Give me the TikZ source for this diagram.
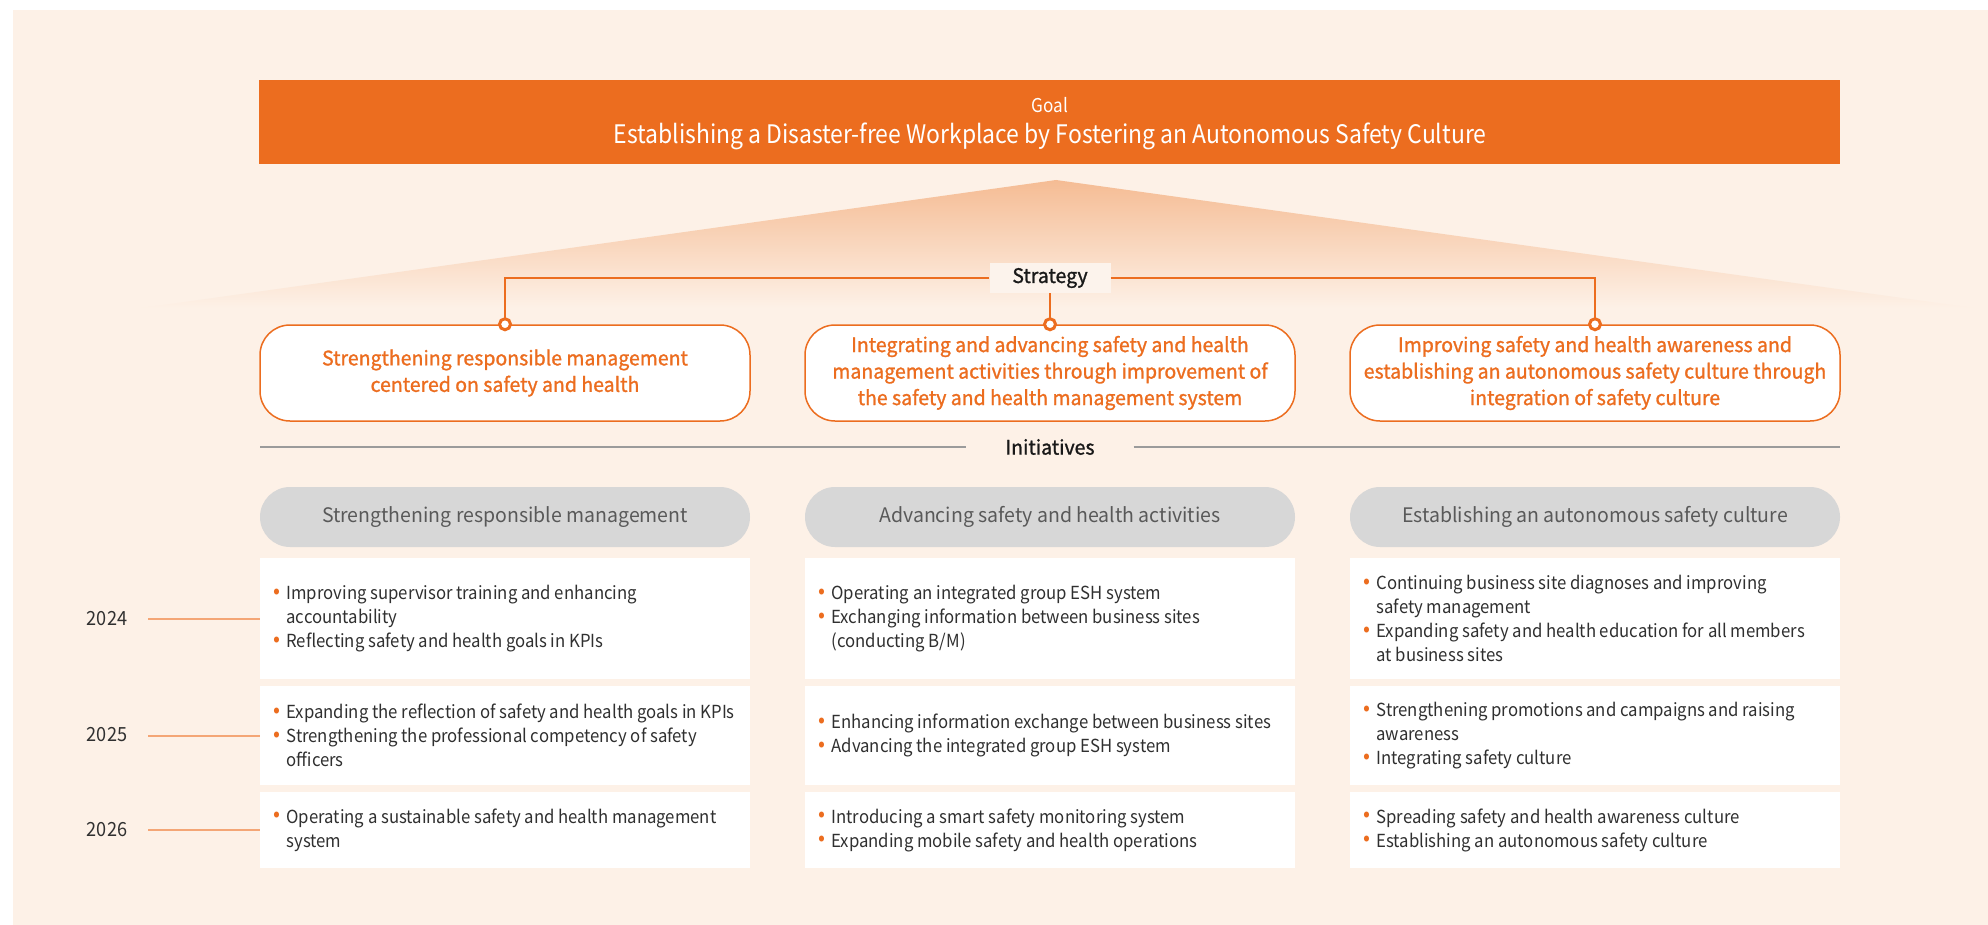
\documentclass[tikz,border=0pt]{standalone}
\usepackage{fontspec}
\setmainfont{Noto Sans CJK KR}
\newfontfamily\medfont[FakeBold=1.2,FakeStretch=0.975]{Noto Sans CJK KR}
\newfontfamily\pillfont[FakeStretch=0.975]{Noto Sans CJK KR}
\newfontfamily\condfont[FakeStretch=0.93]{Noto Sans CJK KR}
\newfontfamily\titlefont[FakeStretch=0.9]{Noto Sans CJK KR}
\usetikzlibrary{calc}
\definecolor{bg}{HTML}{FDF1E7}
\definecolor{lblbg}{HTML}{FCF3EC}
\definecolor{acc}{HTML}{EC6D1F}
\definecolor{tri}{HTML}{F5BC94}
\definecolor{pill}{HTML}{D7D7D7}
\definecolor{pilltxt}{HTML}{595959}
\definecolor{celltxt}{HTML}{303030}
\definecolor{yrline}{HTML}{F4A676}
\definecolor{gline}{HTML}{9B9B9B}
\newcommand\bl{\makebox[12.5pt][l]{\textcolor{acc}{\fontsize{22}{22}\selectfont\raisebox{1.2pt}{\hspace*{-1pt}•}}}}
\newcommand\ind{\hspace*{12.5pt}}
\begin{document}
\begin{tikzpicture}[x=1pt,y=-1pt,
  goalbar/.style={fill=acc,minimum width=1581pt,minimum height=84pt,inner sep=0pt},
  stratbox/.style={draw=acc,line width=1.5pt,fill=white,rounded corners=30pt,minimum width=490pt,minimum height=96pt,align=center,text=acc,font=\medfont\fontsize{20}{26.5}\selectfont,inner sep=0pt},
  ringdot/.style={circle,draw=acc,line width=3pt,fill=white,minimum size=11pt,inner sep=0pt},
  conn/.style={draw=acc,line width=1.2pt},
  lbl/.style={fill=lblbg,inner sep=0pt,font=\medfont\fontsize{20}{24}\selectfont,text=black!90},
  pillbox/.style={fill=pill,rounded corners=30pt,minimum width=490pt,minimum height=60pt,inner sep=0pt,text=pilltxt,font=\pillfont\fontsize{20}{24}\selectfont},
  cellbox/.style={fill=white,minimum width=490pt,inner sep=0pt},
  celltext/.style={anchor=west,align=left,inner sep=0pt,text=celltxt,font=\condfont\fontsize{18}{24}\selectfont},
  yearlbl/.style={text=celltxt,font=\condfont\fontsize{19.5}{24}\selectfont,inner sep=0pt},
  yearline/.style={draw=yrline,line width=2pt},
  gray line/.style={draw=gline,line width=1.4pt}
]
\useasboundingbox (0,0) rectangle (1988,925);
\fill[white] (0,0) rectangle (1988,925);
\fill[bg] (13,10) rectangle (1988,925);
% triangle gradient
\begin{scope}
\clip (1056,180) -- (13,326) -- (1988,310) -- cycle;
\shade[top color=tri,bottom color=bg] (13,180) rectangle (1988,308);
\end{scope}
% goal
\node[goalbar] (goal) at (1049.5,122) {};
\node[anchor=base,text=white,font=\titlefont\fontsize{19}{24}\selectfont,inner sep=0pt] (goallbl) at (1050,113) {Goal};
\node[anchor=base,text=white,font=\titlefont\fontsize{25.5}{30}\selectfont,inner sep=0pt] (goaltitle) at (1050,144) {Establishing a Disaster-free Workplace by Fostering an Autonomous Safety Culture};
% strategy
\node[stratbox] (s1) at (505,373) {Strengthening responsible management\\centered on safety and health};
\node[stratbox] (s2) at (1050,373) {Integrating and advancing safety and health\\management activities through improvement of\\the safety and health management system};
\node[stratbox] (s3) at (1595,373) {Improving safety and health awareness and\\establishing an autonomous safety culture through\\integration of safety culture};
\node[lbl,minimum width=121pt,minimum height=30pt] (strat) at (1050,278) {Strategy};
\draw[conn] (strat.west) -| (s1.north);
\draw[conn] (strat.east) -| (s3.north);
\draw[conn] (strat.south) -- (s2.north);
\node[ringdot] (r1) at (s1.north) {};
\node[ringdot] (r2) at (s2.north) {};
\node[ringdot] (r3) at (s3.north) {};
% initiatives
\node[lbl,fill=bg,minimum width=167pt,minimum height=26pt] (init) at (1050,447) {Initiatives};
\coordinate (il) at (260,447);
\coordinate (ir) at (1840,447);
\draw[gray line] (il) -- (init.west);
\draw[gray line] (init.east) -- (ir);
% pills
\node[pillbox] (p1) at (505,517) {Strengthening responsible management};
\node[pillbox] (p2) at (1050,517) {Advancing safety and health activities};
\node[pillbox] (p3) at (1595,517) {Establishing an autonomous safety culture};
% cells
\node[cellbox,minimum height=121pt] (c11) at (505,618.5) {};
\node[cellbox,minimum height=121pt] (c21) at (1050,618.5) {};
\node[cellbox,minimum height=121pt] (c31) at (1595,618.5) {};
\node[cellbox,minimum height=99pt] (c12) at (505,735.5) {};
\node[cellbox,minimum height=99pt] (c22) at (1050,735.5) {};
\node[cellbox,minimum height=99pt] (c32) at (1595,735.5) {};
\node[cellbox,minimum height=76pt] (c13) at (505,830) {};
\node[cellbox,minimum height=76pt] (c23) at (1050,830) {};
\node[cellbox,minimum height=76pt] (c33) at (1595,830) {};
\node[celltext] (t11) at ([xshift=14pt]c11.west) {\bl Improving supervisor training and enhancing\\\ind accountability\\\bl Reflecting safety and health goals in KPIs};
\node[celltext] (t21) at ([xshift=14pt]c21.west) {\bl Operating an integrated group ESH system\\\bl Exchanging information between business sites\\\ind (conducting B/M)};
\node[celltext] (t31) at ([xshift=14pt]c31.west) {\bl Continuing business site diagnoses and improving\\\ind safety management\\\bl Expanding safety and health education for all members\\\ind at business sites};
\node[celltext] (t12) at ([xshift=14pt]c12.west) {\bl Expanding the reflection of safety and health goals in KPIs\\\bl Strengthening the professional competency of safety\\\ind officers};
\node[celltext] (t22) at ([xshift=14pt]c22.west) {\bl Enhancing information exchange between business sites\\\bl Advancing the integrated group ESH system};
\node[celltext] (t32) at ([xshift=14pt]c32.west) {\bl Strengthening promotions and campaigns and raising\\\ind awareness\\\bl Integrating safety culture};
\node[celltext] (t13) at ([xshift=14pt]c13.west) {\bl Operating a sustainable safety and health management\\\ind system};
\node[celltext] (t23) at ([xshift=14pt]c23.west) {\bl Introducing a smart safety monitoring system\\\bl Expanding mobile safety and health operations};
\node[celltext] (t33) at ([xshift=14pt]c33.west) {\bl Spreading safety and health awareness culture\\\bl Establishing an autonomous safety culture};
% years
\node[yearlbl] (y1) at (107,619) {2024};
\node[yearlbl] (y2) at (107,735) {2025};
\node[yearlbl] (y3) at (107,830) {2026};
\coordinate (yl1) at (148,618.5);
\coordinate (yl2) at (148,735.5);
\coordinate (yl3) at (148,830);
\draw[yearline] (yl1) -- (c11.west);
\draw[yearline] (yl2) -- (c12.west);
\draw[yearline] (yl3) -- (c13.west);
\end{tikzpicture}
\end{document}
